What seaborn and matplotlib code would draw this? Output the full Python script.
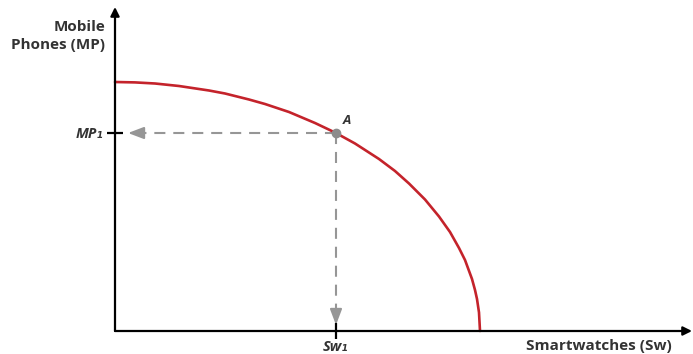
import matplotlib
matplotlib.use("Agg")
import matplotlib.pyplot as plt
import pandas as pd
import seaborn as sns

# production possibility frontier (origin at the axes corner)
smartwatches = [0, 20, 40, 64, 94, 110, 134, 150, 174, 200, 220, 240, 264, 280,
                294, 310, 324, 335, 344, 350, 357, 360, 362, 364, 365]
mobile_phones = [249, 248.6, 247.5, 245, 240.5, 237.5, 231.5, 227, 219, 208, 198.5,
                 187.5, 172, 160, 147.5, 131.5, 114.5, 99, 83, 71, 52, 41, 32, 18.5, 0]

point_sw = 221
point_mp = 198
point_label = "A"
x_tick_label = "Sw₁"
y_tick_label = "MP₁"
x_title = "Smartwatches (Sw)"
y_title = "Mobile\nPhones (MP)"

x_max = 577
y_max = 324

sns.set_style("white")
plt.rcParams["font.family"] = ["Open Sans", "DejaVu Sans"]

df = pd.DataFrame({"sw": smartwatches, "mp": mobile_phones})

fig = plt.figure(figsize=(6.93, 3.54), dpi=100)
ax = fig.add_axes([0, 0, 1, 1])
ax.set_xlim(-115, 578)
ax.set_ylim(-23, 331)

text_col = "#333333"
dash_col = "#969696"

# axes with arrow heads
for tip in [(x_max, 0), (0, y_max)]:
    ax.annotate("", xy=tip, xytext=(0, 0),
                arrowprops=dict(arrowstyle="-|>", color="black", lw=1.6,
                                mutation_scale=13, shrinkA=0, shrinkB=0))

# guide lines from point A to both axes
dash = (0, (5.3, 3.8))
ax.plot([point_sw, 28], [point_mp, point_mp], ls=dash, color=dash_col, lw=1.5)
ax.plot([point_sw, point_sw], [point_mp, 18], ls=dash, color=dash_col, lw=1.5)
head = dict(arrowstyle="-|>,head_length=0.95,head_width=0.36", color=dash_col,
            lw=1.5, mutation_scale=10, shrinkA=0, shrinkB=0)
ax.annotate("", xy=(13, point_mp), xytext=(30, point_mp), arrowprops=head)
ax.annotate("", xy=(point_sw, 6), xytext=(point_sw, 22), arrowprops=head)

sns.lineplot(data=df, x="sw", y="mp", ax=ax, color="#c4232b", lw=1.9, sort=False)

ax.plot([point_sw], [point_mp], marker="o", ms=6, color="#8c8c8c", zorder=5)
ax.text(point_sw + 7, point_mp + 6, point_label, fontsize=9.5, style="italic",
        fontweight="bold", color=text_col, ha="left", va="bottom")

# ticks on the axes
for side in ["top", "right", "left", "bottom"]:
    ax.spines[side].set_visible(False)
ax.spines["left"].set_position(("data", 0))
ax.spines["bottom"].set_position(("data", 0))
ax.set_xticks([point_sw])
ax.set_xticklabels([x_tick_label])
ax.set_yticks([point_mp])
ax.set_yticklabels([y_tick_label])
ax.tick_params(axis="both", direction="inout", length=11, width=1.6, color="black",
               labelsize=10.5, labelcolor=text_col, pad=1, bottom=True, left=True)
ax.tick_params(axis="y", pad=3)
for lab in ax.get_xticklabels() + ax.get_yticklabels():
    lab.set_fontweight("bold")
    lab.set_fontstyle("italic")

ax.set_xlabel("")
ax.set_ylabel("")
ax.text(557, -15, x_title, fontsize=11, fontweight="bold", color=text_col,
        ha="right", va="center")
ax.text(-10, 295, y_title, fontsize=11, fontweight="bold", color=text_col,
        ha="right", va="center", linespacing=1.4, multialignment="right")

fig.savefig("out.png", dpi=100)
plt.close(fig)
